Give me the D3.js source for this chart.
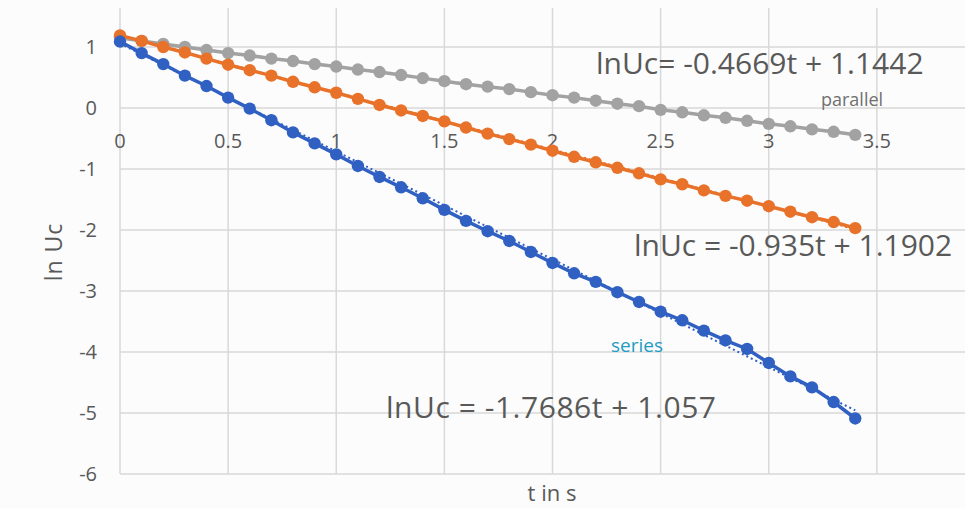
<!DOCTYPE html>
<html>
<head>
<meta charset="utf-8">
<script src="https://cdn.jsdelivr.net/npm/d3@7"></script>
<style>
  html, body { margin: 0; padding: 0; background: #fcfcfc; }
  svg { display: block; font-family: "Open Sans", "Noto Sans", sans-serif; }
</style>
</head>
<body>
<div id="chart"></div>
<script>
"use strict";

// time in s, one sample every 0.1 s
const times = [0, 0.1, 0.2, 0.3, 0.4, 0.5, 0.6, 0.7, 0.8, 0.9, 1.0, 1.1, 1.2, 1.3, 1.4, 1.5, 1.6, 1.7,
  1.8, 1.9, 2.0, 2.1, 2.2, 2.3, 2.4, 2.5, 2.6, 2.7, 2.8, 2.9, 3.0, 3.1, 3.2, 3.3, 3.4];

const parallelVals = [1.15, 1.10, 1.05, 1.00, 0.95, 0.90, 0.86, 0.81, 0.77, 0.72, 0.68, 0.63, 0.59, 0.54,
  0.49, 0.44, 0.39, 0.35, 0.31, 0.26, 0.21, 0.17, 0.12, 0.07, 0.03, -0.03, -0.07, -0.12, -0.16, -0.21,
  -0.26, -0.30, -0.35, -0.39, -0.44];
const singleVals = [1.19, 1.10, 1.00, 0.91, 0.81, 0.71, 0.62, 0.53, 0.43, 0.34, 0.25, 0.15, 0.05, -0.04,
  -0.13, -0.22, -0.32, -0.42, -0.51, -0.60, -0.70, -0.80, -0.89, -0.98, -1.07, -1.17, -1.25, -1.35,
  -1.44, -1.52, -1.61, -1.70, -1.79, -1.87, -1.97];
const seriesVals = [1.09, 0.90, 0.72, 0.53, 0.36, 0.17, -0.01, -0.20, -0.40, -0.58, -0.76, -0.95, -1.13,
  -1.30, -1.48, -1.67, -1.85, -2.02, -2.18, -2.36, -2.54, -2.71, -2.85, -3.02, -3.18, -3.34, -3.48,
  -3.65, -3.81, -3.95, -4.18, -4.40, -4.58, -4.82, -5.09];

// trendline coefficients (slope, intercept)
const fitSlopes = [-0.4669, -0.935, -1.7686];
const fitIntercepts = [1.1442, 1.1902, 1.057];
const fitLabels = ["lnUc= -0.4669t + 1.1442", "lnUc = -0.935t + 1.1902", "lnUc = -1.7686t + 1.057"];

const xTicks = [0, 0.5, 1, 1.5, 2, 2.5, 3, 3.5, 4];
const yTicks = [1, 0, -1, -2, -3, -4, -5, -6];

const colors = ["#a2a2a2", "#e8722a", "#3060c2"];
const allVals = [parallelVals, singleVals, seriesVals];

const width = 965, height = 508;

const svg = d3.select("#chart").append("svg")
  .attr("width", width)
  .attr("height", height);

const x = d3.scaleLinear().domain([0, 4]).range([120, 985]);
const y = d3.scaleLinear().domain([-6, 1]).range([474, 47]);
const plotTop = 8;

// grid
svg.append("g")
  .selectAll("line")
  .data(xTicks)
  .enter()
  .append("line")
  .attr("x1", d => x(d)).attr("x2", d => x(d))
  .attr("y1", plotTop).attr("y2", y(-6))
  .attr("stroke", "#d9d9d9")
  .attr("stroke-width", 1.5);

svg.append("g")
  .selectAll("line")
  .data(yTicks)
  .enter()
  .append("line")
  .attr("x1", x(0)).attr("x2", width)
  .attr("y1", d => y(d)).attr("y2", d => y(d))
  .attr("stroke", "#d9d9d9")
  .attr("stroke-width", 1.5);

// tick labels
svg.append("g")
  .selectAll("text")
  .data(yTicks)
  .enter()
  .append("text")
  .attr("x", 97)
  .attr("y", d => y(d))
  .attr("dy", "0.35em")
  .attr("text-anchor", "end")
  .attr("font-size", 20)
  .attr("fill", "#595959")
  .text(d => d);

svg.append("g")
  .selectAll("text")
  .data(xTicks.filter(d => d < 4))
  .enter()
  .append("text")
  .attr("x", d => x(d))
  .attr("y", y(0) + 40)
  .attr("text-anchor", "middle")
  .attr("font-size", 20)
  .attr("fill", "#595959")
  .text(d => d);

// trendlines (dotted)
const tEnd = d3.max(times);
fitSlopes.forEach((m, i) => {
  svg.append("line")
    .attr("x1", x(0)).attr("y1", y(fitIntercepts[i]))
    .attr("x2", x(tEnd)).attr("y2", y(m * tEnd + fitIntercepts[i]))
    .attr("stroke", colors[i])
    .attr("stroke-width", 2)
    .attr("stroke-dasharray", "2,3");
});

// series lines + markers
const line = d3.line()
  .x(d => x(d[0]))
  .y(d => y(d[1]));

allVals.forEach((vals, i) => {
  const pts = times.map((t, j) => [t, vals[j]]);
  svg.append("path")
    .datum(pts)
    .attr("d", line)
    .attr("fill", "none")
    .attr("stroke", colors[i])
    .attr("stroke-width", 3.5);
  svg.append("g")
    .selectAll("circle")
    .data(pts)
    .enter()
    .append("circle")
    .attr("cx", d => x(d[0]))
    .attr("cy", d => y(d[1]))
    .attr("r", 6.2)
    .attr("fill", colors[i]);
});

// equation labels
const labelPos = [[596, 74], [634, 256], [386, 418]];
fitLabels.forEach((s, i) => {
  svg.append("text")
    .attr("x", labelPos[i][0])
    .attr("y", labelPos[i][1])
    .attr("font-size", 30)
    .attr("textLength", i === 2 ? 330 : null)
    .attr("fill", "#595959")
    .text(s);
});

svg.append("text")
  .attr("x", 821).attr("y", 106)
  .attr("font-size", 18)
  .attr("fill", "#707070")
  .text("parallel");

svg.append("text")
  .attr("x", 611).attr("y", 352)
  .attr("font-size", 19)
  .attr("fill", "#1f9bc4")
  .text("series");

// axis titles
svg.append("text")
  .attr("transform", "translate(62,252) rotate(-90)")
  .attr("text-anchor", "middle")
  .attr("font-size", 23)
  .attr("letter-spacing", 1)
  .attr("fill", "#595959")
  .text("ln Uc");

svg.append("text")
  .attr("x", 552).attr("y", 501)
  .attr("text-anchor", "middle")
  .attr("font-size", 22)
  .attr("fill", "#595959")
  .text("t in s");
</script>
</body>
</html>
